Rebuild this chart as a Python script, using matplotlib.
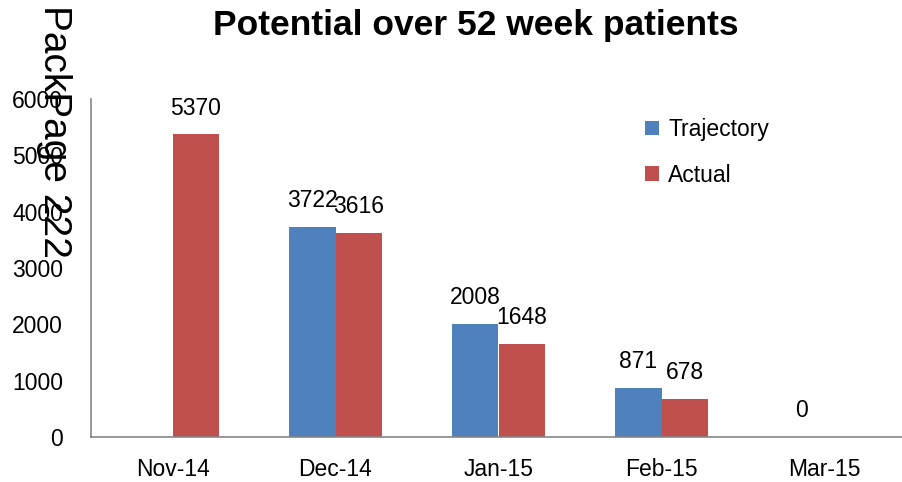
import numpy as np
import matplotlib
matplotlib.use('Agg')
import matplotlib.pyplot as plt

months = ['Nov-14', 'Dec-14', 'Jan-15', 'Feb-15', 'Mar-15']
trajectory = [np.nan, 3722, 2008, 871, 0]
actual = [5370, 3616, 1648, 678, np.nan]

plt.rcParams['font.family'] = ['Liberation Sans', 'DejaVu Sans']
blue = '#4F81BD'
red = '#C0504D'
grey = '#868686'

fig = plt.figure(figsize=(9.02, 4.82), dpi=100)
ax = fig.add_axes([91 / 902, 1 - 437 / 482, 815 / 902, 338 / 482])

x = np.arange(len(months))
w = 0.285
b1 = ax.bar(x - w / 2, trajectory, w, color=blue, label='Trajectory')
b2 = ax.bar(x + w / 2, actual, w, color=red, label='Actual')

for bars, vals in ((b1, trajectory), (b2, actual)):
    for rect, v in zip(bars, vals):
        if np.isnan(v):
            continue
        ax.annotate('%d' % v, (rect.get_x() + rect.get_width() / 2, v),
                    xytext=(0, 19), textcoords='offset points',
                    ha='center', va='center', fontsize=16.5)

ax.set_xlim(-0.5, len(months) - 0.5)
ax.set_ylim(0, 6000)
ax.set_yticks(range(0, 6001, 1000))
ax.set_xticks(x)
ax.set_xticklabels(months)
ax.tick_params(axis='both', length=0, labelsize=16.5)
ax.tick_params(axis='y', pad=20)
ax.tick_params(axis='x', pad=15)
for s in ('top', 'right'):
    ax.spines[s].set_visible(False)
for s in ('left', 'bottom'):
    ax.spines[s].set_color(grey)
    ax.spines[s].set_linewidth(1.2)

ax.legend(loc='upper left', bbox_to_anchor=(0.655, 1.005), frameon=False,
          fontsize=16.5, handlelength=0.6, handleheight=0.6,
          handletextpad=0.4, labelspacing=1.0)

fig.text(0.527, 0.947, 'Potential over 52 week patients', ha='center',
         va='center', fontsize=25.5, fontweight='bold')
fig.text(0.06, 0.99, 'PackPage 222', rotation=270, ha='center', va='top',
         fontsize=28)

fig.savefig('out.png', dpi=100)
